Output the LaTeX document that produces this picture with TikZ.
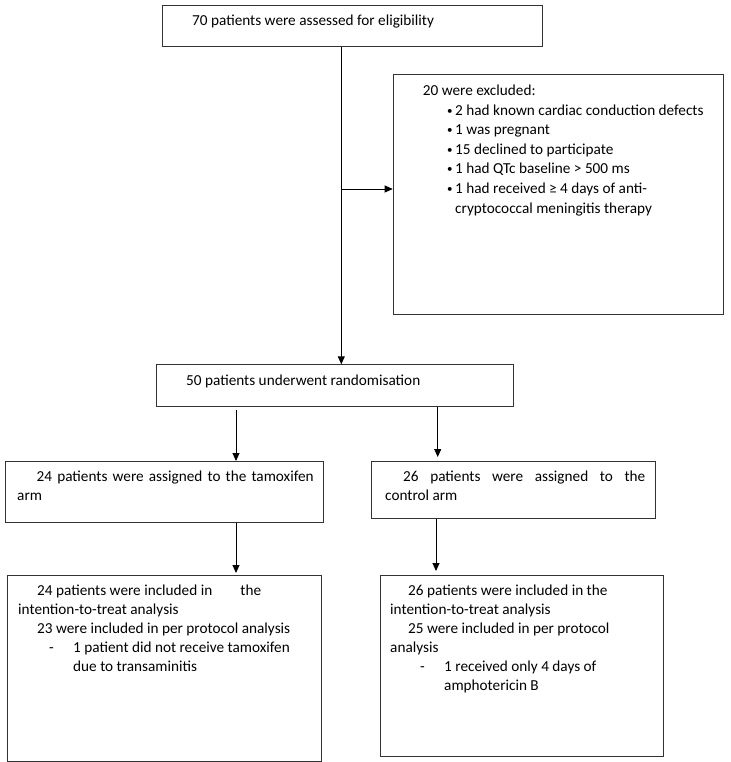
\documentclass[tikz,border=0pt]{standalone}
\usepackage{fontspec}
\setmainfont{Carlito}
\usetikzlibrary{arrows.meta}
\newcommand{\smbul}{\makebox[8pt][l]{\raisebox{1.2pt}{\fontsize{11}{11}\selectfont •}}}
\tikzset{
  box/.style={draw=black!80, line width=1.1pt, inner sep=0pt, anchor=north west, rectangle},
  txt/.style={anchor=base west, inner sep=0pt, font=\fontsize{15.25}{19}\selectfont},
  arr/.style={draw=black, line width=0.9pt, -{Triangle[length=8pt,width=7pt]}},
  ln/.style={draw=black, line width=0.9pt}
}
\begin{document}
\begin{tikzpicture}[x=1pt,y=-1pt]
\useasboundingbox (0,0) rectangle (730,762);
% boxes
\node[box, minimum width=380pt, minimum height=41pt] (top) at (162,5) {};
\node[box, minimum width=330pt, minimum height=240pt] (excl) at (392.7,74) {};
\node[box, minimum width=357pt, minimum height=42pt] (rand) at (156,364.3) {};
\node[box, minimum width=318pt, minimum height=61pt] (tam) at (5,461) {};
\node[box, minimum width=284pt, minimum height=57pt] (ctl) at (371,461) {};
\node[box, minimum width=314pt, minimum height=185.5pt] (tamA) at (6.5,575) {};
\node[box, minimum width=283pt, minimum height=181pt] (ctlA) at (380,575) {};
% texts
\node[txt] (t1) at (192,26) {70 patients were assessed for eligibility};
\node[txt] (e0) at (422.7,96) {20 were excluded:};
\node[txt] (e1) at (447,115.5) {\smbul 2 had known cardiac conduction defects};
\node[txt] (e2) at (447,135) {\smbul 1 was pregnant};
\node[txt] (e3) at (447,154.5) {\smbul 15 declined to participate};
\node[txt] (e4) at (447,174) {\smbul 1 had QTc baseline > 500 ms};
\node[txt] (e5) at (447,193.5) {\smbul 1 had received ≥ 4 days of anti-};
\node[txt] (e6) at (455,213) {cryptococcal meningitis therapy};
\node[txt] (r1) at (186,385) {50 patients underwent randomisation};
\node[txt] (a1) at (36.5,481) {\makebox[277pt][s]{24 patients were assigned to the tamoxifen}};
\node[txt] (a2) at (17,500) {arm};
\node[txt] (b1) at (403,481) {\makebox[242pt][s]{26 patients were assigned to the}};
\node[txt] (b2) at (385,500) {control arm};
\node[txt] (c1) at (37,595) {\makebox[224pt][l]{24 patients were included in\hfill the}};
\node[txt] (c2) at (18,614) {intention-to-treat analysis};
\node[txt] (c3) at (37,633) {23 were included in per protocol analysis};
\node[txt] (c4) at (49,652) {\makebox[24pt][l]{-}1 patient did not receive tamoxifen};
\node[txt] (c5) at (73,671) {due to transaminitis};
\node[txt] (d1) at (408,595) {26 patients were included in the};
\node[txt] (d2) at (390,614) {intention-to-treat analysis};
\node[txt] (d3) at (408,633) {25 were included in per protocol};
\node[txt] (d4) at (390,652) {analysis};
\node[txt] (d5) at (420,671) {\makebox[24pt][l]{-}1 received only 4 days of};
\node[txt] (d6) at (444,690) {amphotericin B};
% connectors
\coordinate (j) at (341.3,189);
\draw[arr] (top.south -| j) -- (rand.north -| j);
\draw[arr] (j) -- (excl.west |- j);
\draw[arr] ([yshift=-3pt]rand.south -| 236,0) -- (tam.north -| 236,0);
\draw[arr] (rand.south -| 437.7,0) -- ([yshift=4pt]ctl.north -| 437.7,0);
\draw[arr] (tam.south -| 236,0) -- ([yshift=2pt]tamA.north -| 236,0);
\draw[arr] (ctl.south -| 436,0) -- ([yshift=4pt]ctlA.north -| 436,0);
\end{tikzpicture}
\end{document}
